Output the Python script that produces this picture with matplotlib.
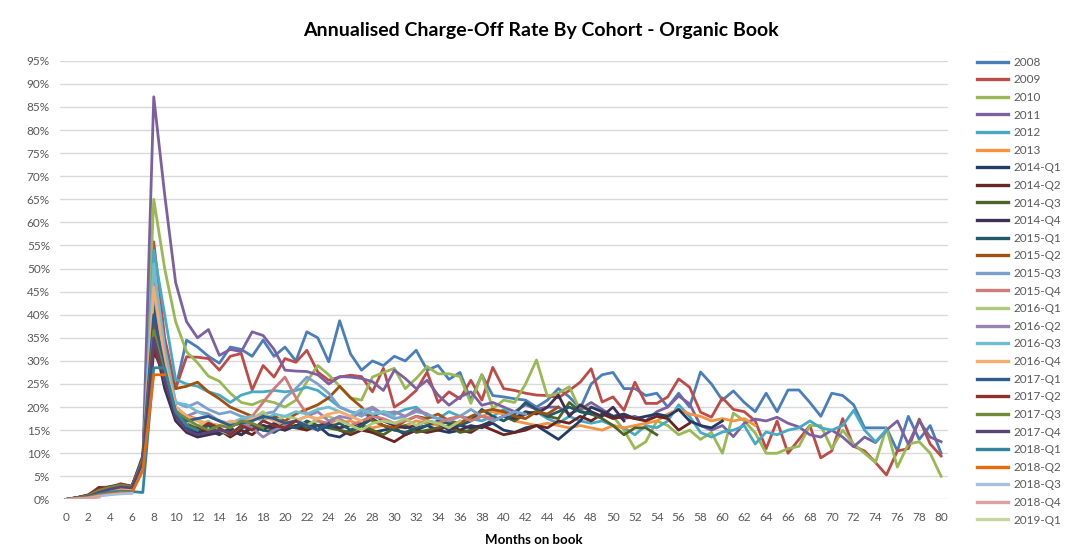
import matplotlib
matplotlib.use("Agg")
import matplotlib.pyplot as plt
from matplotlib.ticker import FuncFormatter, MultipleLocator

plt.rcParams['font.family'] = ['Lato', 'DejaVu Sans']

cohorts = ["2008", "2009", "2010", "2011", "2012", "2013",
           "2014-Q1", "2014-Q2", "2014-Q3", "2014-Q4",
           "2015-Q1", "2015-Q2", "2015-Q3", "2015-Q4",
           "2016-Q1", "2016-Q2", "2016-Q3", "2016-Q4",
           "2017-Q1", "2017-Q2", "2017-Q3", "2017-Q4",
           "2018-Q1", "2018-Q2", "2018-Q3", "2018-Q4", "2019-Q1"]

colors = ["#4A7EBB", "#BE4B48", "#98B954", "#7D60A0", "#46AAC5", "#F69240",
          "#1F3D66", "#6B2422", "#4F6228", "#3F3151",
          "#215968", "#A0500F", "#7BA0CD", "#D07B79",
          "#AFC97A", "#9983B5", "#6FBDD1", "#F9AB6B",
          "#2F5A8F", "#8C2F2D", "#6E8B37", "#5B4477",
          "#31859C", "#E46C0A", "#A7C0DE", "#DCA09E", "#C5D6A0"]

# charge-off rate in %, month 0 onwards
r2008 = [0, 0.3, 0.5, 1.2, 1.8, 2.5, 2.8, 8, 40, 30,
         24, 34.5, 33, 31, 29.5, 33, 32.5, 31, 34.5, 31,
         33, 30, 36.3, 35, 29.8, 38.7, 31.5, 28, 30, 29,
         31, 30, 32.3, 28, 29, 26, 27.5, 21.5, 27, 22.5,
         22.2, 21.8, 21.5, 20, 21.5, 24, 22.2, 19.7, 25, 27,
         27.5, 24, 24, 22.5, 23, 20, 23, 20, 27.6, 25,
         21.5, 23.5, 21, 19, 23, 19, 23.7, 23.7, 21, 18,
         23, 22.5, 20.5, 15.5, 15.5, 15.5, 10.5, 18, 13, 16,
         10]
r2009 = [0, 0.4, 1, 2.6, 2.7, 3.4, 2.7, 9, 55.8, 35,
         24, 30.9, 30.8, 30.5, 28, 31, 31.6, 23.7, 29, 26.5,
         30.5, 29.7, 32.3, 27.6, 25.8, 26.5, 26.9, 26.6, 23.3, 28.4,
         20, 21.5, 23.6, 27.6, 21, 23.3, 21.8, 25.8, 21.5, 28.6,
         24, 23.6, 23, 22.6, 22.5, 22, 23.6, 25.4, 28.3, 21.1,
         22.2, 19.3, 25.4, 20.8, 20.8, 22.2, 26.1, 24.3, 18.9, 17.8,
         22, 19.5, 19, 17, 11, 17, 10, 13, 16, 9,
         10.5, 17.5, 11.5, 10.5, 8, 5.3, 10.5, 11, 17.4, 12,
         9.4]
r2010 = [0, 0.3, 0.8, 2, 2.4, 3, 2.5, 8.5, 65, 50,
         38.5, 32, 29.6, 26.7, 25.6, 23, 21, 20.5, 21.5, 21,
         20, 21.5, 25.5, 29, 27, 24.5, 22, 21.5, 26.5, 27.5,
         28.4, 24, 26.2, 28.8, 27.2, 27.2, 26.6, 20.8, 27, 19.7,
         21.5, 21, 25, 30.2, 22.3, 23, 24.4, 19.3, 20, 19,
         18, 15, 11, 12.5, 17, 16, 14, 15, 13, 14.5,
         10, 18.7, 17, 14.4, 10, 10, 11, 11.5, 16, 16,
         11, 15, 12, 10, 8, 15.5, 7, 12, 12.5, 10,
         5]
r2011 = [0, 0.2, 0.6, 1.5, 2, 2.6, 2.4, 8, 87.2, 66,
         47, 38.5, 35, 36.8, 31.2, 32.5, 32, 36.3, 35.5, 32.5,
         28, 27.8, 27.7, 27, 25, 26.6, 26.5, 26.2, 25.5, 23.6,
         28, 26.2, 24, 25.8, 22.6, 20.4, 22.2, 23.3, 20.4, 21,
         20, 19, 20.5, 19.5, 20, 20, 18.5, 19.5, 21, 19.5,
         18, 17.5, 18, 17, 19, 20, 22.4, 20.7, 16, 15,
         16, 13.6, 16.5, 17.4, 17, 17.8, 16.5, 15.7, 14, 13.5,
         15, 13.5, 11.4, 13.5, 12.3, 15, 17, 12, 17, 13.5,
         12.5]
r2012 = [0, 0.3, 0.5, 1, 1.5, 2, 2, 7, 54, 40,
         26, 25, 24.5, 23.3, 22.6, 21, 22.6, 23.3, 23.3, 23.6,
         23.3, 23.6, 24.3, 23.6, 21.8, 20, 19, 18.5, 18, 19,
         18.5, 19.5, 20, 18, 17.5, 19, 18, 17.5, 17, 18,
         19.5, 18, 18.5, 19, 17.5, 16.5, 18, 17, 16.5, 17,
         16, 15.5, 14, 16, 15.5, 17, 20.5, 18, 14.5, 13.5,
         14.6, 15, 16, 12, 14.6, 14, 15, 15.5, 17, 15.5,
         15, 16, 19.3, 15, 12.5, 15]
r2013 = [0, 0.2, 0.5, 1, 1.5, 2, 2.2, 8, 44, 30,
         20, 18, 17, 16.5, 16, 16.5, 17, 16, 15.5, 16,
         16.5, 16, 16.5, 17, 16, 16.5, 17, 16, 15.5, 16,
         15, 16, 17, 16.5, 16, 17, 16, 17.5, 18, 19,
         18.5, 17, 16.5, 16, 16.5, 16, 15.5, 16, 15.5, 15,
         16, 15.5, 16, 16.5, 17, 18.5, 19.5, 18.5, 18, 17,
         17.5, 17, 17.5, 16]
r2014q1 = [0, 0.4, 0.8, 1.8, 2.4, 3.2, 2.6, 9, 39, 28,
           19, 15, 14.5, 15, 14, 15.5, 14, 16, 15, 16.5,
           15, 16, 15.5, 16, 14, 13.5, 15, 16, 14.5, 15,
           15.5, 14, 15, 16, 15, 14.5, 15, 16, 15.5, 16.5,
           15, 14.5, 15.5, 16, 14.5, 13, 15, 17, 20, 19,
           18, 18.5, 17.5, 18, 18.5, 18, 19.5, 17, 16, 15.5,
           17]
r2014q2 = [0, 0.3, 0.6, 2.6, 2.2, 3, 2.5, 8, 32, 27,
           19, 16, 15.5, 14.5, 15, 13.5, 15, 14, 16, 15,
           16, 15.5, 15, 16, 16.5, 15, 14, 15, 14.5, 13.5,
           12.5, 14, 15, 14.5, 15, 16, 15, 14.5, 16, 15,
           14, 14.5, 15, 16, 15.5, 17, 16.5, 18, 17, 18.5,
           17.5, 18, 17.5, 17, 18, 17.5, 15, 16.5]
r2014q3 = [0, 0.3, 0.7, 1.6, 2.6, 2.8, 2.6, 8.5, 37, 30,
           20, 17, 15, 16, 14.5, 15, 14, 15.5, 16, 15,
           16.5, 17, 15.5, 16, 15.5, 15, 14.5, 16, 15, 14,
           15.5, 16, 14.5, 15, 15.5, 16, 14.5, 15, 16, 17,
           18, 17, 18.5, 19, 18, 17.5, 21, 19, 18.5, 17.5,
           16, 14, 15.5, 15.5, 14]
r2014q4 = [0, 0.2, 0.5, 1.2, 2.2, 2.5, 2.4, 7.5, 35, 24,
           17, 14.5, 13.5, 14, 14.5, 15, 14, 15.5, 16, 15.5,
           15, 16, 16.5, 15, 16, 15.5, 16, 16.5, 18.5, 17,
           16, 15.5, 16, 17, 16.5, 15, 16, 15.5, 16, 17,
           18, 17.5, 19, 18.5, 20, 22.6, 18, 20.5, 19, 18,
           20, 17]
r2015q1 = [0, 0.4, 0.9, 1.9, 2.8, 3.1, 2.8, 8.8, 42, 29,
           18, 15.5, 15, 16, 15, 14.5, 15.5, 16, 15, 14.5,
           16, 15.5, 17, 16, 15.5, 16.5, 15, 16, 17.5, 16,
           15, 14.5, 15.5, 16, 17, 16.5, 16, 17, 19.5, 18,
           17, 18.5, 21, 19.5, 18, 19, 20, 19, 18.5]
r2015q2 = [0, 0.3, 0.7, 1.7, 2.3, 2.9, 2.7, 8.2, 38, 30,
           24, 24.5, 25.4, 23.3, 21.8, 20, 19, 18, 17.5, 18,
           17, 18.5, 19.5, 20.5, 22, 24.5, 22, 20, 17, 16,
           15.5, 17, 18, 17.5, 18.5, 17, 16.5, 18, 19, 19.5,
           19, 18, 17.5, 19, 18.5, 20]
r2015q3 = [0, 0.2, 0.6, 1.4, 2, 2.5, 2.3, 7.8, 50, 33,
           21, 20, 21, 19.5, 18.5, 19, 18, 17.5, 18.5, 19,
           22, 24, 26.5, 25, 23, 20, 19, 18, 19.5, 18.5,
           17.5, 18, 19, 18.5, 17.5, 17, 18, 19.5, 18, 17,
           18, 19, 18.5]
r2015q4 = [0, 0.3, 0.8, 1.5, 2.1, 2.6, 2.4, 8, 47, 31,
           20, 18, 17.5, 18, 17, 16, 17, 18, 21, 24,
           26.5, 22, 18.5, 17, 16.5, 17.5, 16, 17, 18, 17.5,
           16.5, 17, 18, 17, 16.5, 17.5, 18, 17, 18, 17.5]
r2016q1 = [0, 0.2, 0.5, 1.2, 1.8, 2.2, 2.1, 7, 36, 26,
           19, 17, 16, 17, 15, 14, 16, 17.5, 19, 17,
           18, 17.5, 16, 17.5, 18, 17, 16, 15, 16.5, 17,
           16.5, 17.5, 16, 17, 16.5, 15.5, 17]
r2016q2 = [0, 0.2, 0.4, 1, 1.6, 2, 1.9, 6.8, 45, 30,
           20, 18, 19, 18.5, 17, 16, 16.5, 15.5, 13.5, 15,
           16, 17, 18, 19, 17, 18, 17.5, 19, 20, 18.5,
           19, 18, 19.5, 18.5]
r2016q3 = [0, 0.3, 0.6, 1.3, 1.9, 2.3, 2.2, 7.5, 51, 32,
           21, 20.5, 19, 18, 17, 16.5, 17.5, 18, 17, 18.5,
           18, 19, 18.5, 19.5, 20, 19, 18, 19.5, 18.5, 19,
           18]
r2016q4 = [0, 0.2, 0.5, 1.1, 1.7, 2.1, 2, 7.2, 46, 30,
           20, 18, 17, 16.5, 16, 17, 16.5, 17.5, 18, 17,
           16.5, 17, 18, 17.5, 18.5, 19, 18, 17]
r2017q1 = [0, 0.3, 0.7, 1.6, 2.4, 3, 2.8, 9.5, 40, 28,
           19, 17, 17.5, 18, 17, 16, 16.5, 17, 18, 17.5,
           16.5, 17, 16, 15, 16.5]
r2017q2 = [0, 0.4, 0.9, 2.3, 2.5, 3.3, 2.9, 8.8, 33, 26,
           18, 16, 15, 16.5, 15.5, 14, 16, 15, 17, 16,
           15.5, 17]
r2017q3 = [0, 0.3, 0.8, 2, 2.6, 3.1, 2.7, 8.6, 36.6, 27,
           19, 17.5, 16, 15, 16, 15.5, 17, 16.5, 15.5]
r2017q4 = [0, 0.2, 0.6, 1.5, 2.2, 2.7, 2.5, 8, 35, 26,
           18, 15, 14, 14.5, 15, 14.5]
r2018q1 = [0, 0.3, 0.5, 1.1, 1.6, 1.8, 1.7, 1.5, 28.5, 28.5,
           19, 16, 15]
r2018q2 = [0, 0.2, 0.4, 0.9, 1.2, 1.5, 1.4, 6.3, 27, 27]
r2018q3 = [0, 0.1, 0.3, 0.7, 1, 1.2, 1.3]
r2018q4 = [0, 0.1, 0.2, 0.5]
r2019q1 = [0]

rates = [r2008, r2009, r2010, r2011, r2012, r2013,
         r2014q1, r2014q2, r2014q3, r2014q4,
         r2015q1, r2015q2, r2015q3, r2015q4,
         r2016q1, r2016q2, r2016q3, r2016q4,
         r2017q1, r2017q2, r2017q3, r2017q4,
         r2018q1, r2018q2, r2018q3, r2018q4, r2019q1]

fig = plt.figure(figsize=(10.66, 5.58), dpi=100)
ax = fig.add_axes([0.056, 0.105, 0.833, 0.786])

for name, col, vals in zip(cohorts, colors, rates):
    months = list(range(len(vals)))
    ax.plot(months, [v / 100 for v in vals], color=col, lw=2.0, label=name,
            solid_joinstyle="round")

ax.set_xlim(-0.6, 80.6)
ax.set_ylim(0, 0.95)
ax.xaxis.set_major_locator(MultipleLocator(2))
ax.yaxis.set_major_locator(MultipleLocator(0.05))
ax.yaxis.set_major_formatter(FuncFormatter(lambda v, p: "%d%%" % round(v * 100)))
ax.grid(axis="y", color="#D9D9D9", lw=1)
ax.set_axisbelow(True)
for s in ax.spines.values():
    s.set_visible(False)
ax.tick_params(length=0, labelsize=8.5, labelcolor="#595959")
ax.tick_params(axis="x", pad=9)
ax.tick_params(axis="y", pad=7)

fig.text(0.507, 0.945, "Annualised Charge-Off Rate By Cohort - Organic Book",
         fontsize=14, fontweight="bold", ha="center", va="center")
fig.text(0.501, 0.033, "Months on book", fontsize=9.5, fontweight="bold",
         ha="center", va="center")

leg = ax.legend(loc="upper left", bbox_to_anchor=(0.911, 0.909),
                bbox_transform=fig.transFigure, frameon=False,
                fontsize=8.5, labelspacing=0.56, handlelength=2.6,
                handletextpad=0.45, borderpad=0)
for t in leg.get_texts():
    t.set_color("#595959")
for h in leg.get_lines():
    h.set_linewidth(2.4)

fig.savefig("out.png", dpi=100)
